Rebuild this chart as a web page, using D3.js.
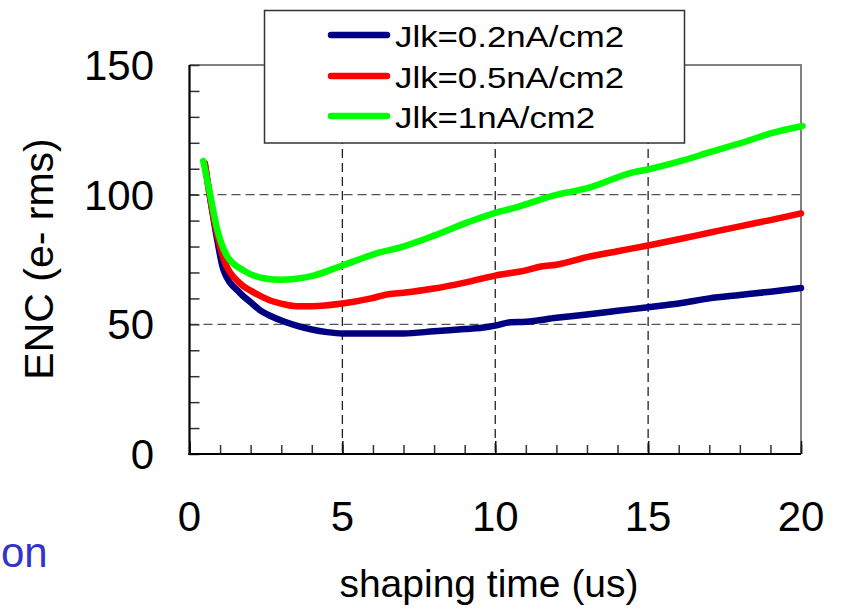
<!DOCTYPE html>
<html>
<head>
<meta charset="utf-8">
<script src="https://cdn.jsdelivr.net/npm/d3@7"></script>
<style>
  html, body { margin: 0; padding: 0; background: #fff; }
  svg { display: block; }
  text { font-family: "Liberation Sans", Arial, sans-serif; fill: #000; }
</style>
</head>
<body>
<svg id="chart" width="846" height="609"></svg>
<script>
// ---- data ----
const seriesNames = ["Jlk=0.2nA/cm2", "Jlk=0.5nA/cm2", "Jlk=1nA/cm2"];
const seriesColors = ["#000080", "#ff0000", "#00ff00"];

const blueX = [0.5, 0.7, 0.9, 1.1, 1.66, 2.0, 2.3, 2.6, 3.0, 3.5, 4.0, 4.5, 5.0, 6.0, 7.0, 8.0, 9.0, 9.5, 10.0, 10.5, 11.0, 12.0, 13.0, 14.0, 15.0, 16.0, 17.0, 18.0, 19.0, 20.0];
const blueY = [112, 97, 83, 71.5, 62, 58.5, 55.5, 53.5, 51.5, 49.5, 48, 47, 46.5, 46.5, 46.5, 47.3, 48.2, 48.6, 49.5, 50.8, 51, 52.5, 53.8, 55.2, 56.6, 58, 60, 61.3, 62.6, 64];

const redX = [0.5, 0.7, 0.9, 1.1, 1.66, 2.0, 2.64, 3.0, 3.5, 4.0, 5.0, 5.9, 6.5, 7.0, 8.0, 9.0, 10.0, 11.0, 11.5, 12.0, 13.0, 14.0, 15.0, 16.0, 17.0, 18.0, 19.0, 20.0];
const redY = [112, 97, 85, 76, 65.7, 63, 59.2, 58, 57, 57, 58, 59.9, 61.6, 62.2, 63.8, 66.1, 68.8, 70.8, 72.3, 73, 75.9, 78.2, 80.4, 82.8, 85.3, 87.8, 90.2, 92.8];

const greenX = [0.45, 0.67, 0.89, 1.22, 1.76, 2.53, 2.97, 3.5, 4.06, 5.0, 6.25, 6.9, 8.0, 9.09, 10.06, 10.5, 11.9, 13.1, 14.5, 15.06, 16.08, 17.0, 18.27, 19.0, 20.05];
const greenY = [113, 100.3, 87.4, 76.5, 70.8, 67.6, 67.2, 67.6, 68.8, 72.7, 77.8, 79.7, 84.2, 89.3, 93.2, 94.5, 99.6, 102.8, 108.6, 109.9, 113, 116.3, 120.8, 123.6, 126.5];

const xTickLabels = [0, 5, 10, 15, 20];
const yTickLabels = [0, 50, 100, 150];
const xGridValues = [5, 10, 15];
const yGridValues = [50, 100];

const xTitle = "shaping time (us)";
const yTitle = "ENC (e- rms)";
const sideText = "on";

// ---- layout ----
const svg = d3.select("#chart");
const L = 189.5, R = 801, T = 65, B = 454;

const x = d3.scaleLinear().domain([0, 20]).range([L, R]);
const y = d3.scaleLinear().domain([0, 150]).range([B, T]);

// gridlines
svg.append("g").selectAll("line").data(xGridValues).join("line")
  .attr("x1", d => x(d)).attr("x2", d => x(d))
  .attr("y1", T).attr("y2", B)
  .attr("stroke", "#222").attr("stroke-width", 1.3)
  .attr("stroke-dasharray", "9,5");
svg.append("g").selectAll("line").data(yGridValues).join("line")
  .attr("x1", L).attr("x2", R)
  .attr("y1", d => y(d)).attr("y2", d => y(d))
  .attr("stroke", "#555").attr("stroke-width", 1.3)
  .attr("stroke-dasharray", "9,5");

// top and right borders (gray)
svg.append("path")
  .attr("d", `M${L},${T}H${R}V${B}`)
  .attr("fill", "none").attr("stroke", "#808080").attr("stroke-width", 2);

// minor ticks via axes
const xMinor = d3.axisBottom(x).tickValues(d3.range(0, 21, 1)).tickSize(-9).tickFormat("");
const gx = svg.append("g").attr("transform", `translate(0,${B})`).call(xMinor);
gx.select(".domain").remove();
gx.selectAll(".tick line").attr("stroke", "#333").attr("stroke-width", 1.5);

const xMajor = d3.axisBottom(x).tickValues(xTickLabels).tickSize(-13).tickFormat("");
const gx2 = svg.append("g").attr("transform", `translate(0,${B})`).call(xMajor);
gx2.select(".domain").remove();
gx2.selectAll(".tick line").attr("stroke", "#111").attr("stroke-width", 1.5);

const yMinor = d3.axisLeft(y).tickValues(d3.range(0, 151, 10)).tickSize(-10).tickFormat("");
const gy = svg.append("g").attr("transform", `translate(${L},0)`).call(yMinor);
gy.select(".domain").remove();
gy.selectAll(".tick line").attr("stroke", "#333").attr("stroke-width", 1.5);

// axis lines
svg.append("line").attr("x1", L).attr("x2", L).attr("y1", T).attr("y2", B + 1)
  .attr("stroke", "#000").attr("stroke-width", 2.2);
svg.append("line").attr("x1", L - 1).attr("x2", R).attr("y1", B).attr("y2", B)
  .attr("stroke", "#000").attr("stroke-width", 2.2);

// tick labels
svg.append("g").selectAll("text").data(xTickLabels).join("text")
  .attr("x", d => x(d)).attr("y", 531)
  .attr("text-anchor", "middle").attr("font-size", 42)
  .text(d => d);
svg.append("g").selectAll("text").data(yTickLabels).join("text")
  .attr("x", 154).attr("y", d => y(d) + 15)
  .attr("text-anchor", "end").attr("font-size", 42)
  .text(d => d);

// axis titles
svg.append("text").attr("x", 489).attr("y", 597)
  .attr("text-anchor", "middle").attr("font-size", 39)
  .text(xTitle);
svg.append("text")
  .attr("transform", "translate(53,259) rotate(-90)")
  .attr("text-anchor", "middle").attr("font-size", 41)
  .text(yTitle);

// side text
svg.append("text").attr("x", 1).attr("y", 567)
  .attr("font-size", 42).style("fill", "#3333cc")
  .text(sideText);

// series lines
const allSeries = [
  { xs: blueX, ys: blueY },
  { xs: redX, ys: redY },
  { xs: greenX, ys: greenY }
];
const line = d3.line().x(d => x(d[0])).y(d => y(d[1])).curve(d3.curveMonotoneX);
allSeries.forEach((s, i) => {
  const pts = s.xs.map((v, j) => [v, s.ys[j]]);
  svg.append("path").datum(pts)
    .attr("d", line)
    .attr("fill", "none")
    .attr("stroke", seriesColors[i])
    .attr("stroke-width", 6.5)
    .attr("stroke-linecap", "round")
    .attr("stroke-linejoin", "round");
});

// legend
const lg = svg.append("g");
lg.append("rect").attr("x", 264.5).attr("y", 10.5).attr("width", 420).attr("height", 132.5)
  .attr("fill", "#fff").attr("stroke", "#333").attr("stroke-width", 1.5);
const rowY = [35, 76, 116];
seriesNames.forEach((name, i) => {
  lg.append("line").attr("x1", 331).attr("x2", 387)
    .attr("y1", rowY[i]).attr("y2", rowY[i])
    .attr("stroke", seriesColors[i]).attr("stroke-width", 6.5)
    .attr("stroke-linecap", "round");
  const t = lg.append("text").attr("x", 395).attr("y", rowY[i] + 12)
    .attr("font-size", 30).text(name);
  const w = t.node().getComputedTextLength();
  t.attr("textLength", w * 1.16).attr("lengthAdjust", "spacingAndGlyphs");
});
</script>
</body>
</html>
